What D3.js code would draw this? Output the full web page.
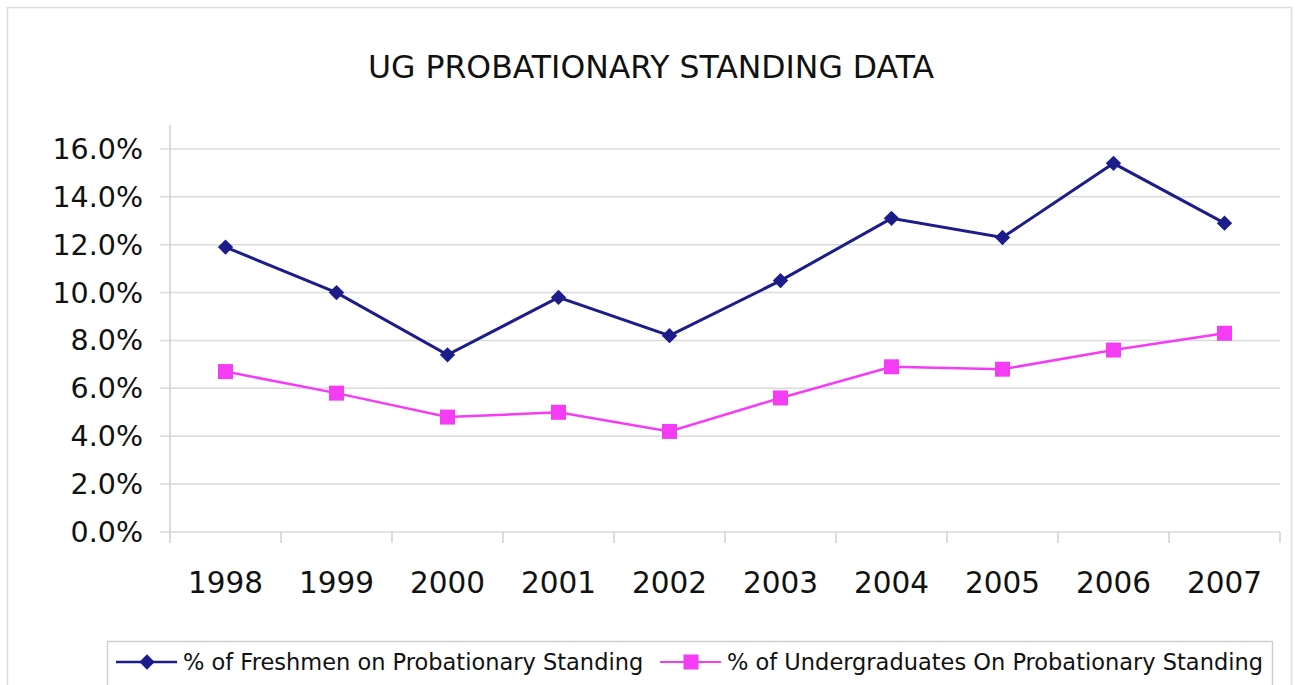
<!DOCTYPE html>
<html>
<head>
<meta charset="utf-8">
<script src="https://cdn.jsdelivr.net/npm/d3@7"></script>
<style>
  body { margin: 0; background: #fff; }
  text { font-family: "DejaVu Sans", Verdana, sans-serif; fill: #111; }
</style>
</head>
<body>
<div id="chart"></div>
<script>
// data
let years = ["1998", "1999", "2000", "2001", "2002", "2003", "2004", "2005", "2006", "2007"]
let freshmen = [11.9, 10.0, 7.4, 9.8, 8.2, 10.5, 13.1, 12.3, 15.4, 12.9]
let undergrads = [6.7, 5.8, 4.8, 5.0, 4.2, 5.6, 6.9, 6.8, 7.6, 8.3]
let yTicks = [0, 2, 4, 6, 8, 10, 12, 14, 16]
let seriesNames = ["% of Freshmen on Probationary Standing", "% of Undergraduates On Probationary Standing"]

let W = 1297, H = 685
let plotLeft = 170, plotRight = 1280, plotTop = 125, plotBottom = 532

var svg = d3.select("#chart")
    .append("svg")
        .attr("width", W)
        .attr("height", H)

// outer frame
svg.append("rect")
    .attr("x", 7.5).attr("y", 7.5)
    .attr("width", 1284).attr("height", 690)
    .attr("fill", "none")
    .attr("stroke", "#dcdcdc")
    .attr("stroke-width", 1.5)

svg.append("text")
    .attr("x", 651)
    .attr("y", 78)
    .attr("text-anchor", "middle")
    .style("font-size", "31.5px")
    .text("UG PROBATIONARY STANDING DATA")

let xScale = d3.scaleBand()
    .domain(years)
    .range([plotLeft, plotRight])

let yScale = d3.scaleLinear()
    .domain([0, 17])
    .range([plotBottom, plotTop])

// gridlines
svg.append("g")
    .selectAll("line")
    .data(yTicks)
    .enter()
    .append("line")
        .attr("x1", plotLeft - 10)
        .attr("x2", plotRight)
        .attr("y1", d => yScale(d))
        .attr("y2", d => yScale(d))
        .attr("stroke", "#dadada")
        .attr("stroke-width", 1.5)

// y axis line
svg.append("line")
    .attr("x1", plotLeft).attr("x2", plotLeft)
    .attr("y1", plotTop).attr("y2", plotBottom + 11)
    .attr("stroke", "#d0d0d0")
    .attr("stroke-width", 1.5)

// x tick marks at band boundaries
let bounds = years.map(d => xScale(d) + xScale.bandwidth())
svg.append("g")
    .selectAll("line")
    .data(bounds)
    .enter()
    .append("line")
        .attr("x1", d => d).attr("x2", d => d)
        .attr("y1", plotBottom).attr("y2", plotBottom + 11)
        .attr("stroke", "#d0d0d0")
        .attr("stroke-width", 1.5)

// y labels
svg.append("g")
    .selectAll("text")
    .data(yTicks)
    .enter()
    .append("text")
        .attr("x", 143)
        .attr("y", d => yScale(d) + 10)
        .attr("text-anchor", "end")
        .style("font-size", "28.5px")
        .text(d => d.toFixed(1) + "%")

// x labels
svg.append("g")
    .selectAll("text")
    .data(years)
    .enter()
    .append("text")
        .attr("x", d => xScale(d) + xScale.bandwidth() / 2)
        .attr("y", 593)
        .attr("text-anchor", "middle")
        .style("font-size", "29.5px")
        .text(d => d)

let cx = i => xScale(years[i]) + xScale.bandwidth() / 2
let line = d3.line()
    .x((d, i) => cx(i))
    .y(d => yScale(d))

// freshmen series
svg.append("path")
    .datum(freshmen)
    .attr("d", line)
    .attr("fill", "none")
    .attr("stroke", "#1c1c8a")
    .attr("stroke-width", 3)

let diamond = d3.symbol().type(d3.symbolDiamond2).size(150)
svg.append("g")
    .selectAll("path")
    .data(freshmen)
    .enter()
    .append("path")
        .attr("d", diamond)
        .attr("transform", (d, i) => `translate(${cx(i)},${yScale(d)})`)
        .attr("fill", "#1c1c8a")

// undergrad series
svg.append("path")
    .datum(undergrads)
    .attr("d", line)
    .attr("fill", "none")
    .attr("stroke", "#f53cf5")
    .attr("stroke-width", 2.5)

svg.append("g")
    .selectAll("rect")
    .data(undergrads)
    .enter()
    .append("rect")
        .attr("x", (d, i) => cx(i) - 7.5)
        .attr("y", d => yScale(d) - 7.5)
        .attr("width", 15)
        .attr("height", 15)
        .attr("fill", "#f53cf5")

// legend
let legend = svg.append("g")
legend.append("rect")
    .attr("x", 107.5).attr("y", 641.5)
    .attr("width", 1165).attr("height", 60)
    .attr("fill", "#fff")
    .attr("stroke", "#cfcfcf")
    .attr("stroke-width", 1.5)

let legendItems = [
    {name: seriesNames[0], x0: 116, color: "#1c1c8a", mark: "diamond"},
    {name: seriesNames[1], x0: 660, color: "#f53cf5", mark: "square"}
]
legendItems.forEach(it => {
    legend.append("line")
        .attr("x1", it.x0).attr("x2", it.x0 + 61)
        .attr("y1", 662).attr("y2", 662)
        .attr("stroke", it.color)
        .attr("stroke-width", it.mark == "diamond" ? 2.5 : 2)
    if (it.mark == "diamond") {
        legend.append("path")
            .attr("d", diamond)
            .attr("transform", `translate(${it.x0 + 31},662)`)
            .attr("fill", it.color)
    } else {
        legend.append("rect")
            .attr("x", it.x0 + 31 - 7.5).attr("y", 654.5)
            .attr("width", 15).attr("height", 15)
            .attr("fill", it.color)
    }
    legend.append("text")
        .attr("x", it.x0 + 67)
        .attr("y", 670)
        .style("font-size", "22.5px")
        .text(it.name)
})
</script>
</body>
</html>
